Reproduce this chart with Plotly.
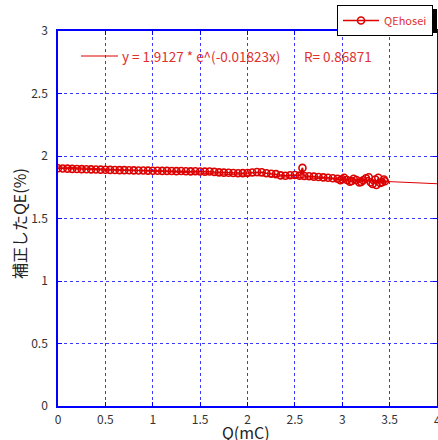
import math
import plotly.graph_objects as go

# measured series (Q in mC, corrected QE in %)
q_mc = [0.00, 0.05, 0.10, 0.15, 0.20, 0.25, 0.30, 0.35, 0.40, 0.45,
        0.50, 0.55, 0.60, 0.65, 0.70, 0.75, 0.80, 0.85, 0.90, 0.95,
        1.00, 1.05, 1.10, 1.15, 1.20, 1.25, 1.30, 1.35, 1.40, 1.45,
        1.50, 1.55, 1.60, 1.65, 1.70, 1.75, 1.80, 1.85, 1.90, 1.95,
        2.00, 2.05, 2.10, 2.15, 2.20, 2.25, 2.30, 2.35, 2.40, 2.45,
        2.50, 2.55, 2.58, 2.60, 2.65, 2.70, 2.75, 2.80, 2.85, 2.90,
        2.95, 2.98, 3.00, 3.02, 3.05, 3.08, 3.10, 3.12, 3.15, 3.18,
        3.20, 3.22, 3.25, 3.28, 3.30, 3.32, 3.35, 3.36, 3.38, 3.40,
        3.42, 3.44, 3.45]
qe_hosei = [1.902, 1.900, 1.899, 1.897, 1.896, 1.895, 1.894, 1.893, 1.892, 1.891,
            1.890, 1.889, 1.888, 1.887, 1.887, 1.886, 1.885, 1.884, 1.884, 1.883,
            1.882, 1.882, 1.881, 1.881, 1.880, 1.879, 1.880, 1.878, 1.877, 1.878,
            1.876, 1.875, 1.876, 1.873, 1.869, 1.867, 1.866, 1.864, 1.862, 1.863,
            1.864, 1.868, 1.872, 1.870, 1.862, 1.858, 1.855, 1.845, 1.842, 1.846,
            1.848, 1.843, 1.905, 1.840, 1.838, 1.835, 1.832, 1.829, 1.826, 1.822,
            1.818, 1.806, 1.814, 1.826, 1.808, 1.795, 1.800, 1.818, 1.808, 1.788,
            1.793, 1.806, 1.822, 1.830, 1.790, 1.776, 1.812, 1.768, 1.826, 1.784,
            1.790, 1.812, 1.798]

# exponential fit parameters shown in the chart
fit_a = 1.9127
fit_b = -0.01823
fit_r = 0.86871
fit_x = [0.0, 0.5, 1.0, 1.5, 2.0, 2.5, 3.0, 3.5, 4.0]

x_ticks = [0, 0.5, 1, 1.5, 2, 2.5, 3, 3.5, 4]
y_ticks = [0, 0.5, 1, 1.5, 2, 2.5, 3]

fit_y = [fit_a * math.exp(fit_b * v) for v in fit_x]

FONT = "Noto Sans CJK JP"
RED = "#dd0000"
TXTRED = "#e03030"
BLUE = "#0000ff"

W, H = 438, 440
ML, MR, MT, MB = 58, 1, 31, 34
PW, PH = W - ML - MR, H - MT - MB


def px(xp):
    return (xp - ML) / PW


def py(yp):
    return (H - MB - yp) / PH


fig = go.Figure()
fig.add_trace(go.Scatter(x=fit_x, y=fit_y, mode="lines",
                         line=dict(color=RED, width=1), showlegend=False,
                         hoverinfo="skip"))
fig.add_trace(go.Scatter(x=q_mc, y=qe_hosei, mode="lines+markers", name="QEhosei",
                         line=dict(color=RED, width=1.5),
                         marker=dict(symbol="circle-open", size=7, color=RED,
                                     line=dict(width=1.6, color=RED))))

axis_common = dict(showline=True, linecolor=BLUE, linewidth=1.5, mirror="ticks",
                   ticks="inside", ticklen=4, tickcolor=BLUE, automargin=False,
                   showgrid=True, gridcolor="#3a3aff", griddash="dot",
                   gridwidth=1, zeroline=False,
                   tickfont=dict(family=FONT, size=12, color="#333333"))

fig.update_xaxes(range=[0, 4], tickvals=x_ticks[:-1], ticktext=[f"{t:g}" for t in x_ticks[:-1]],
                 ticklabelstandoff=2, **axis_common)
fig.update_yaxes(range=[0, 3], tickvals=y_ticks, ticktext=[f"{t:g}" for t in y_ticks],
                 ticklabelstandoff=6, **axis_common)

# last x tick label sits at the right edge of the figure (partly clipped in the reference)
fig.add_annotation(xref="x", yref="paper", x=x_ticks[-1], y=0, yshift=-3,
                   xanchor="center", yanchor="top", showarrow=False,
                   text=f"{x_ticks[-1]:g}", font=dict(family=FONT, size=12, color="#333333"))

# axis titles
fig.add_annotation(xref="paper", yref="paper", x=px(246), y=py(432),
                   xanchor="center", yanchor="middle", showarrow=False,
                   text="Q(mC)", font=dict(family=FONT, size=16, color="#222222"))
fig.add_annotation(xref="paper", yref="paper", x=px(19), y=py(224),
                   xanchor="center", yanchor="middle", showarrow=False, textangle=-90,
                   text="補正したQE(%)", font=dict(family=FONT, size=16, color="#222222"))

# fit equation annotation with line sample
fig.add_shape(type="line", xref="paper", yref="paper",
              x0=px(81), x1=px(118), y0=py(56), y1=py(56),
              line=dict(color=RED, width=1))
fig.add_annotation(xref="paper", yref="paper", x=px(120), y=py(56),
                   xanchor="left", yanchor="middle", showarrow=False,
                   text=f"y = {fit_a} * e^({fit_b}x)",
                   font=dict(family=FONT, size=13.5, color=TXTRED))
fig.add_annotation(xref="paper", yref="paper", x=px(302), y=py(56),
                   xanchor="left", yanchor="middle", showarrow=False,
                   text=f"R= {fit_r}",
                   font=dict(family=FONT, size=13.5, color=TXTRED))

# legend shadow
fig.add_shape(type="rect", xref="paper", yref="paper",
              x0=px(340), x1=px(437), y0=py(33), y1=py(9),
              fillcolor="black", line=dict(width=0), layer="above")

fig.update_layout(
    width=W, height=H,
    margin=dict(l=ML, r=MR, t=MT, b=MB),
    plot_bgcolor="white", paper_bgcolor="white",
    font=dict(family=FONT),
    showlegend=True,
    legend=dict(x=px(337), y=py(5), xanchor="left", yanchor="top",
                bgcolor="white", bordercolor="black", borderwidth=1,
                font=dict(family=FONT, size=11, color=TXTRED),
                itemwidth=36, tracegroupgap=0),
)

fig.write_html("out.html", config={"displayModeBar": False},
               post_script="document.body.style.margin='0px';")
